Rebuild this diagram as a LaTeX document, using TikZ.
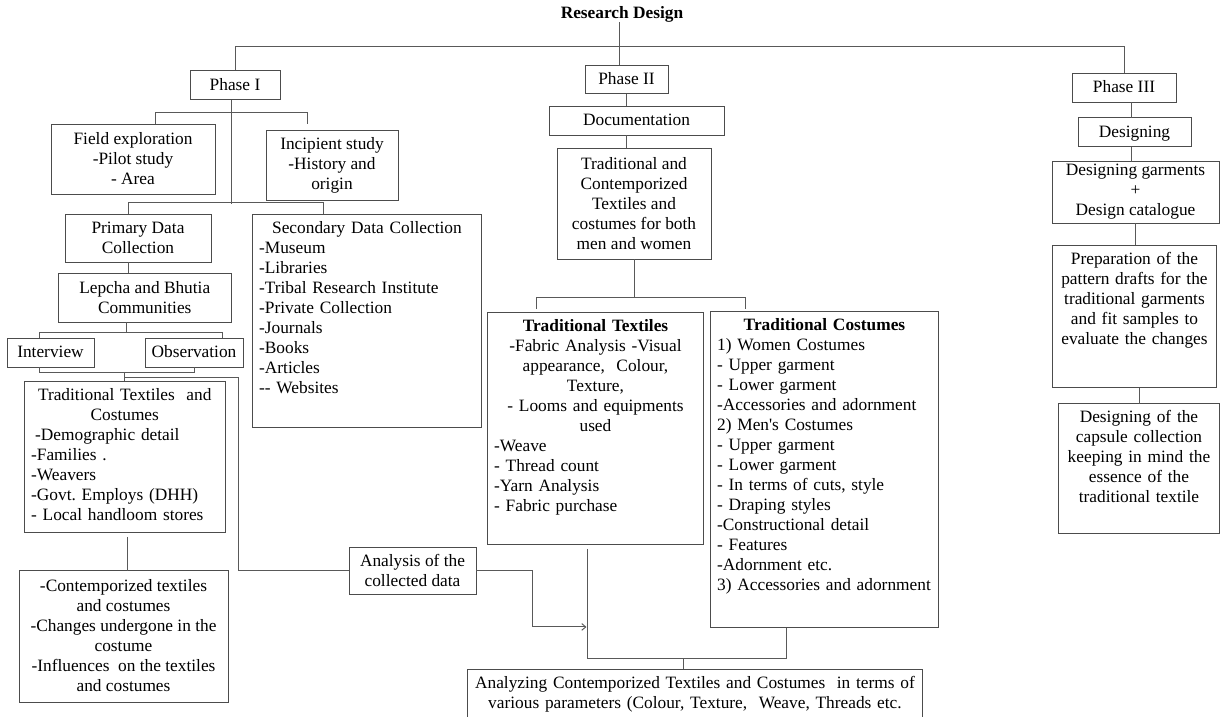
\documentclass[tikz,border=0pt]{standalone}
\usepackage{fontspec}
\setmainfont{Liberation Serif}
\usepackage{tikz}
\usetikzlibrary{arrows.meta}
\usetikzlibrary{calc}
\newcommand{\centred}[1]{\makebox[\linewidth]{#1}}
\frenchspacing

\begin{document}
\begin{tikzpicture}[x=0.75pt, y=0.75pt]
	\tikzstyle{every node}+=[font=\fontsize{13}{15}\selectfont]
	\tikzstyle{box}=[draw=black!70, line width=0.7pt, inner xsep=5pt, inner ysep=3.5pt]
	\tikzstyle{single}=[box, text height=11pt, text depth=3.5pt]
	\tikzstyle{topbox}=[box, anchor=north west, text height=11pt]
	\tikzstyle{link}=[draw=black!65, line width=0.7pt]
	\useasboundingbox (0,0) rectangle (1220,-717);
	\node [font=\fontsize{13}{15}\selectfont\bfseries, inner sep=0pt] (title) at (622,-14) {Research Design};
	\node [single, minimum width=67.5pt, minimum height=21pt] (phase1) at (235,-85) {Phase I};
	\node [single, minimum width=62.25pt, minimum height=20.25pt] (phase2) at (626.5,-79.5) {Phase II};
	\node [single, minimum width=78pt, minimum height=21.75pt] (phase3) at (1124,-87.5) {Phase III};
	\node [single, minimum width=131.25pt, minimum height=21.75pt] (docu) at (636.5,-120.5) {Documentation};
	\node [single, minimum width=84.75pt, minimum height=21pt] (design) at (1134.5,-132) {Designing};
	\node [box, align=center, minimum width=123pt, minimum height=52.5pt] (field) at (133,-159) {Field exploration\\-Pilot study\\- Area};
	\node [box, align=center, minimum width=99pt, minimum height=52.5pt] (incip) at (332,-165) {Incipient study\\-History and\\origin};
	\node [box, align=center, minimum width=109.5pt, minimum height=36pt] (primary) at (138,-238) {Primary Data\\Collection};
	\node [box, align=center, minimum width=129.4pt, minimum height=36.75pt] (lepcha) at (144.75,-297.5) {Lepcha and Bhutia\\Communities};
	\node [single, minimum width=65.25pt, minimum height=21.75pt] (interview) at (50.5,-352.5) {Interview};
	\node [single, minimum width=73.5pt, minimum height=21.75pt] (observ) at (194,-352.5) {Observation};
	\node [topbox, align=left, text width=140.4pt, text depth=95.25pt] (ttc) at (24,-381) {\centred{Traditional Textiles\ \ and}\\\centred{Costumes}\\\hspace{3pt}-Demographic detail\\-Families .\\-Weavers\\-Govt. Employs (DHH)\\- Local handloom stores};
	\node [box, align=center, minimum width=156.75pt, minimum height=99pt] (contemp) at (123.5,-636) {-Contemporized textiles\\and costumes\\-Changes undergone in the\\costume\\-Influences\ \ on the textiles\\and costumes};
	\node [topbox, align=left, text width=161.75pt, text depth=141.75pt] (second) at (252,-214) {\centred{Secondary Data Collection}\\-Museum\\-Libraries\\-Tribal Research Institute\\-Private Collection\\-Journals\\-Books\\-Articles\\-{}- Websites};
	\node [box, align=center, minimum width=115.5pt, minimum height=83.25pt] (tcon) at (634,-203.5) {Traditional and\\Contemporized\\Textiles and\\costumes for both\\men and women};
	\node [topbox, align=left, text width=152pt, text depth=156pt] (ttex) at (487,-312) {\centred{\textbf{Traditional Textiles}}\\\centred{-Fabric Analysis -Visual}\\\centred{appearance,\ \ Colour,}\\\centred{Texture,}\\\centred{- Looms and equipments}\\\centred{used}\\-Weave\\- Thread count\\-Yarn Analysis\\- Fabric purchase};
	\node [topbox, align=left, text width=161pt, text depth=219pt] (tcos) at (710,-311) {\centred{\textbf{Traditional Costumes}}\\1) Women Costumes\\- Upper garment\\- Lower garment\\-Accessories and adornment\\2) Men\textquotesingle s Costumes\\- Upper garment\\- Lower garment\\- In terms of cuts, style\\- Draping styles\\-Constructional detail\\- Features\\-Adornment etc.\\3) Accessories and adornment};
	\node [box, align=center, minimum width=95.25pt, minimum height=35.25pt] (analysis) at (412.5,-570.5) {Analysis of the\\collected data};
	\node [topbox, align=left, text width=331.25pt, text depth=25.5pt] (analyz) at (467,-669) {\centred{Analyzing Contemporized Textiles and Costumes\ \ in terms of}\\\centred{various parameters (Colour, Texture,\ \ Weave, Threads etc.}};
	\node [box, align=center, inner ysep=1pt, minimum width=125.25pt, minimum height=46.5pt] (dgar) at (1135.5,-192) {Designing garments\\+\\Design catalogue};
	\node [topbox, align=center, text width=113pt, text depth=88.5pt] (prep) at (1052,-245) {Preparation of the\\pattern drafts for the\\traditional garments\\and fit samples to\\evaluate the changes};
	\node [topbox, align=center, text width=110.75pt, text depth=79.5pt] (caps) at (1058,-403) {Designing of the\\capsule collection\\keeping in mind the\\essence of the\\traditional textile};
	\draw [link] ([shift={(-7,0)}]phase2.north) -- ++(0,43);
	\draw [link] (phase1.north) -- ++(0,24) -| (phase3.north);
	\draw [link] ([shift={(-4,0)}]phase1.south) -- ++(0,-104);
	\draw [link] ([shift={(22,0)}]field.north) -- ++(0,11) -| ([shift={(-25,6)}]incip.north);
	\draw [link] ([shift={(-10,0)}]primary.north) -- ++(0,11) -| ([shift={(-44,0)}]second.north);
	\draw [link] ([shift={(-10,0)}]primary.south) -- ++(0,-11);
	\draw [link] ([shift={(-18,0)}]lepcha.south) -- ++(0,-11);
	\draw [link] ([shift={(-11,0)}]interview.north) -- ++(0,5) -| ([shift={(28,0)}]observ.north);
	\draw [link] ([shift={(-11,0)}]interview.south) -- ++(0,-5) -| (observ.south);
	\draw [link] (ttc.north) -- ++(0,9);
	\draw [link] ([shift={(0,4)}]ttc.north) -- ++(114,0) |- (analysis.west);
	\draw [link] ([shift={(3,-4)}]ttc.south) -- ++(0,-34);
	\draw [link] (phase2.south) -- (phase2.south |- docu.north);
	\draw [link] ([shift={(-10,0)}]docu.south) -- ++(0,-13);
	\draw [link] (tcon.south) -- ++(0,-38) coordinate (j3);
	\draw [link] ([shift={(-59,3)}]ttex.north) |- (j3) -| ([shift={(-79,2)}]tcos.north);
	\draw [link] ([shift={(-8,-4)}]ttex.south) |- ([shift={(-38,-31)}]tcos.south) -- ([shift={(-38,0)}]tcos.south);
	\draw [link] ([shift={(-12,0)}]analyz.north) -- ++(0,11);
	\draw [link, -{Straight Barb[length=3pt, width=5pt]}] (analysis.east) -- ++(56,0) |- ([shift={(-9,-82)}]ttex.south);
	\draw [link] ([shift={(7,0)}]phase3.south) -- ++(0,-16);
	\draw [link] ([shift={(-3,0)}]design.south) -- ++(0,-15);
	\draw [link] (dgar.south) -- ++(0,-22);
	\draw [link] ([shift={(5,0)}]prep.south) -- ++(0,-16);
\end{tikzpicture}
\end{document}
